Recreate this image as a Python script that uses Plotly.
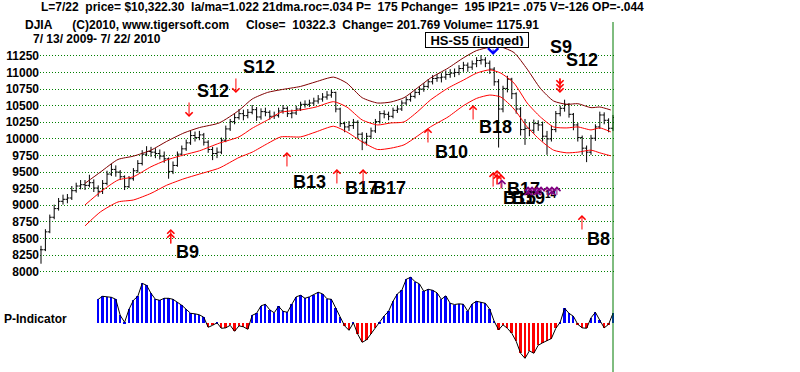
import plotly.graph_objects as go

# ---------------- data ----------------
# every second trading day, 7/13/2009 .. 7/22/2010
closes = [8330, 8600, 8820, 8950, 9060, 9090, 9110, 9220, 9290, 9310,
          9300, 9340, 9260, 9210, 9330, 9470, 9540, 9500, 9430, 9280,
          9400, 9520, 9630, 9770, 9810, 9800, 9780, 9740, 9700, 9510,
          9600, 9770, 9850, 9940, 10050, 10020, 10060, 9950, 9840, 9780,
          9800, 9980, 10150, 10260, 10320, 10380, 10350, 10400, 10440, 10330,
          10410, 10400, 10340, 10350, 10420, 10460, 10380, 10390, 10450, 10520,
          10520, 10540, 10570, 10600, 10630, 10660, 10700, 10450, 10230, 10180,
          10200, 10250, 10070, 9950, 10040, 10120, 10260, 10380, 10370, 10340,
          10430, 10450, 10540, 10590, 10640, 10700, 10750, 10790, 10860, 10910,
          10920, 10930, 10970, 10990, 11000, 11060, 11110, 11080, 11130, 11180,
          11190, 11140, 11050, 10860, 10450, 10760, 10900, 10680, 10450, 10140,
          10160, 10130, 10230, 10210, 10040, 10000, 10140, 10380, 10460, 10520,
          10370, 10210, 10020, 9860, 9800, 10010, 10180, 10360, 10280, 10160,
          10322]
highs = [8390, 8640, 8860, 9010, 9110, 9160, 9170, 9290, 9340, 9380,
         9380, 9460, 9390, 9300, 9380, 9520, 9630, 9600, 9530, 9450,
         9440, 9560, 9680, 9830, 9890, 9880, 9860, 9840, 9810, 9720,
         9660, 9810, 9900, 9990, 10120, 10110, 10120, 10090, 9980, 9880,
         9870, 10020, 10200, 10300, 10380, 10450, 10440, 10450, 10510, 10480,
         10460, 10470, 10430, 10410, 10470, 10510, 10490, 10440, 10500, 10560,
         10580, 10590, 10620, 10660, 10690, 10720, 10740, 10710, 10470, 10260,
         10270, 10300, 10280, 10100, 10090, 10170, 10300, 10420, 10430, 10410,
         10470, 10500, 10580, 10630, 10690, 10750, 10790, 10840, 10900, 10960,
         10980, 10990, 11030, 11050, 11060, 11110, 11160, 11150, 11180, 11230,
         11260, 11230, 11180, 11080, 10900, 10800, 10950, 10920, 10700, 10480,
         10300, 10250, 10290, 10280, 10260, 10120, 10200, 10420, 10500, 10590,
         10540, 10390, 10240, 10050, 9900, 10060, 10220, 10410, 10400, 10310,
         10360]
lows = [8120, 8310, 8580, 8790, 8920, 9010, 9030, 9080, 9190, 9240,
        9230, 9270, 9200, 9130, 9170, 9300, 9440, 9430, 9380, 9230,
        9260, 9370, 9490, 9600, 9740, 9730, 9710, 9690, 9640, 9400,
        9470, 9580, 9740, 9820, 9910, 9960, 9980, 9900, 9790, 9680,
        9710, 9770, 9950, 10120, 10220, 10290, 10280, 10310, 10370, 10270,
        10290, 10340, 10290, 10300, 10320, 10380, 10330, 10310, 10360, 10420,
        10470, 10480, 10500, 10530, 10560, 10590, 10620, 10400, 10180, 10100,
        10120, 10150, 10010, 9830, 9900, 10000, 10090, 10230, 10310, 10280,
        10310, 10390, 10420, 10510, 10560, 10610, 10660, 10710, 10760, 10820,
        10860, 10850, 10890, 10920, 10930, 10960, 11010, 11010, 11040, 11080,
        11120, 11080, 10980, 10800, 9870, 10400, 10700, 10600, 10380, 10050,
        9910, 10040, 10080, 10120, 9960, 9760, 9960, 10100, 10340, 10410,
        10320, 10130, 9960, 9760, 9650, 9760, 9970, 10150, 10220, 10100,
        10120]

# 21-day moving-average bands, read at these trading days
band_days = [20, 27, 35, 42, 50, 57, 65, 72, 81, 90, 96, 103, 109, 118, 125, 133,
             139, 146, 153, 159, 165, 171, 177, 185, 192, 198, 204, 209, 215, 221,
             227, 233, 239, 244, 250, 254, 259]
upper_band = [9330, 9500, 9690, 9740, 9830, 9960, 10090, 10170, 10240, 10430, 10600, 10700,
              10740, 10790, 10860, 10930, 10840, 10620, 10540, 10555, 10620, 10765, 10915,
              11065, 11220, 11330, 11380, 11385, 11300, 11050, 10760, 10570, 10520, 10530,
              10470, 10480, 10435]
middle_band = [9005, 9200, 9380, 9430, 9580, 9680, 9760, 9820, 9935, 10030, 10160, 10285,
               10400, 10435, 10480, 10560, 10480, 10285, 10210, 10240, 10255, 10405, 10585,
               10765, 10885, 10990, 11040, 10990, 10840, 10540, 10330, 10180, 10165, 10180,
               10135, 10165, 10105]
lower_band = [8690, 8900, 9050, 9080, 9180, 9300, 9400, 9470, 9560, 9720, 9800, 9930,
              10030, 10030, 10105, 10190, 10105, 9955, 9840, 9860, 9910, 10040, 10180,
              10330, 10500, 10610, 10660, 10630, 10450, 10180, 9980, 9830, 9790, 9800,
              9830, 9790, 9745]

# P-Indicator (last 118 two-day points)
p_indicator = [420, 473, 464, 455, 420, 140, 18, 245, 403, 473,
               700, 665, 525, 420, 403, 438, 438, 420, 368, 315,
               245, 175, 166, 149, 105, -70, -35, 9, -88, -79,
               -35, -140, -44, -61, -105, 140, 175, 306, 333, 236,
               184, 298, 210, 193, 333, 464, 490, 438, 464, 499,
               543, 516, 429, 420, 263, 105, -44, -123, 9, -193,
               -333, -289, -184, -88, 26, 131, 210, 385, 516, 578,
               770, 805, 730, 691, 560, 595, 578, 534, 420, 481,
               350, 329, 341, 333, 210, 341, 385, 368, 350, 245,
               35, -114, -26, -88, -175, -315, -525, -613, -481, -525,
               -385, -341, -306, -266, -88, 18, 263, 175, 123, -18,
               -79, -88, 96, 193, 53, -79, -18, 175]

price_ticks = [8000, 8250, 8500, 8750, 9000, 9250, 9500, 9750, 10000,
               10250, 10500, 10750, 11000, 11250]

# signals: label, trading day, price
signal_labels = [
    ("B9", 66.4, 8297), ("S12", 78.2, 10721), ("S12", 99.1, 11083),
    ("B13", 122.0, 9351), ("B17", 145.5, 9261), ("B17", 158.2, 9261),
    ("B10", 186.4, 9803), ("B18", 206.4, 10179), ("S9", 236.4, 11384),
    ("S12", 245.9, 11188), ("B17", 219.1, 9238), ("B15", 217.5, 9103),
    ("B19", 221.5, 9103), ("B8", 253.2, 8492),
]
# arrows: trading day, tip price, direction, colour, number of heads
signal_arrows = [
    (59.0, 8643, "up", "red", 2), (67.3, 10330, "down", "red", 1),
    (88.6, 10691, "down", "red", 1), (111.8, 9803, "up", "red", 1),
    (134.5, 9547, "up", "red", 1), (146.4, 9547, "up", "red", 1),
    (175.9, 10164, "up", "red", 1), (196.4, 10510, "up", "red", 1),
    (205.5, 9500, "up", "red", 1), (207.3, 9532, "up", "red", 2),
    (209.1, 9470, "up", "red", 1), (209.5, 9390, "up", "#800080", 1),
    (221.4, 9285, "up", "#800080", 2), (223.2, 9285, "up", "#800080", 1),
    (225.5, 9285, "up", "#800080", 2), (227.3, 9285, "up", "#800080", 1),
    (230.0, 9285, "up", "#800080", 1), (232.2, 9285, "up", "#800080", 2),
    (234.5, 9285, "up", "#800080", 1), (235.9, 10691, "down", "red", 3),
    (245.9, 8854, "up", "red", 1),
]

# ---------------- figure ----------------
W, H = 800, 372
days = [2 * i for i in range(len(closes))]
opens = [closes[0]] + closes[:-1]
p_days = days[len(days) - len(p_indicator):]
p_colors = ["#0000ff" if v >= 0 else "#ff0000" for v in p_indicator]

FONT = "Liberation Sans, Arial, sans-serif"

fig = go.Figure()
fig.add_trace(go.Ohlc(
    x=days, open=opens, high=highs, low=lows, close=closes,
    increasing=dict(line=dict(color="black", width=1)),
    decreasing=dict(line=dict(color="black", width=1)),
    tickwidth=0.45, hoverinfo="skip", xaxis="x", yaxis="y"))
for vals, col in ((upper_band, "#800000"), (middle_band, "#ff0000"), (lower_band, "#ff0000")):
    fig.add_trace(go.Scatter(x=band_days, y=vals, mode="lines",
                             line=dict(color=col, width=1, shape="spline", smoothing=0.6),
                             hoverinfo="skip", xaxis="x", yaxis="y"))
fig.add_trace(go.Bar(x=p_days, y=p_indicator, marker=dict(color=p_colors, line=dict(width=0)),
                     width=0.9, hoverinfo="skip", xaxis="x2", yaxis="y2"))
fig.add_trace(go.Scatter(x=p_days, y=p_indicator, mode="lines",
                         line=dict(color="black", width=1), hoverinfo="skip",
                         xaxis="x2", yaxis="y2"))


def py(px):
    return 1 - px / H


x_dom = [40 / W, 614 / W]
x_rng = [-0.4545, 260.4545]

fig.update_layout(
    width=W, height=H, autosize=False,
    margin=dict(l=0, r=0, t=0, b=0),
    paper_bgcolor="white", plot_bgcolor="white",
    showlegend=False, bargap=0,
    xaxis=dict(domain=x_dom, range=x_rng, visible=False, rangeslider=dict(visible=False),
               anchor="y"),
    yaxis=dict(domain=[py(280), py(40)], range=[7875, 11489], anchor="x",
               tickmode="array", tickvals=price_ticks, ticktext=[str(t) for t in price_ticks],
               tickfont=dict(family=FONT, size=12, color="black", weight="bold"),
               showgrid=True, gridcolor="#008000", griddash="1px,2px", gridwidth=1,
               zeroline=False, showline=False, ticks=""),
    xaxis2=dict(domain=x_dom, range=x_rng, visible=False, anchor="y2"),
    yaxis2=dict(domain=[py(370), py(276)], range=[-817, 828], visible=False,
                anchor="x2"),
)

# today line
fig.add_shape(type="line", xref="x", yref="paper", x0=days[-1], x1=days[-1],
              y0=0, y1=py(22), line=dict(color="#007a00", width=1))

# header
hdr_font = dict(family=FONT, size=12, color="black", weight="bold")
NB = "\u00a0"
header = [
    ("L=7/22" + NB * 2 + "price= $10,322.30" + NB * 2 + "la/ma=1.022 21dma.roc=.034 P=" + NB * 2
     + "175 Pchange=" + NB * 2 + "195 IP21= .075 V=-126 OP=-.044", 39, 7.5),
    ("DJIA" + NB * 6 + "(C)2010, www.tigersoft.com" + NB * 5 + "Close=" + NB * 2 + "10322.3"
     + NB * 2 + "Change= 201.769 Volume= 1175.91", 23, 25),
    ("7/ 13/ 2009- 7/ 22/ 2010", 31, 39),
]
for txt, xpx, ypx in header:
    fig.add_annotation(text=txt, xref="paper", yref="paper", x=xpx / W, y=py(ypx),
                       xanchor="left", yanchor="middle", showarrow=False, font=hdr_font)

fig.add_annotation(text="P-Indicator", xref="paper", yref="paper", x=2 / W, y=py(319),
                   xanchor="left", yanchor="middle", showarrow=False, font=hdr_font)

# HS-S5 box
fig.add_annotation(text="HS-S5 (judged)", xref="x", yref="y", x=198.2, y=11489,
                   showarrow=False, bgcolor="white", bordercolor="black", borderwidth=1,
                   borderpad=1, width=100, height=12,
                   font=dict(family=FONT, size=13, color="black", weight="bold"))
fig.add_annotation(text="", xref="x", yref="y", x=205.5, y=11264, showarrow=True,
                   ax=0, ay=-7, arrowhead=4, arrowsize=2, arrowwidth=1, arrowcolor="#0000ff")

# signal labels
for lab, d, p in signal_labels:
    fig.add_annotation(text=lab, xref="x", yref="y", x=d, y=p, showarrow=False,
                       xanchor="center", yanchor="middle",
                       font=dict(family=FONT, size=18, color="black", weight="bold"))
fig.add_annotation(text="14", xref="x", yref="y", x=231.8, y=9160, showarrow=False,
                   font=dict(family=FONT, size=10, color="black", weight="bold"))

# signal arrows
for d, p, direc, col, heads in signal_arrows:
    length = 10 if col == "#800080" else 16
    for h in range(heads):
        fig.add_annotation(text="", xref="x", yref="y", x=d, y=p, showarrow=True,
                           ax=0, ay=length if direc == "up" else -length, standoff=4 * h,
                           arrowhead=4, arrowsize=1.4, arrowwidth=1, arrowcolor=col)

fig.write_html("out.html", config={"displayModeBar": False},
               post_script="document.body.style.margin='0px';")
